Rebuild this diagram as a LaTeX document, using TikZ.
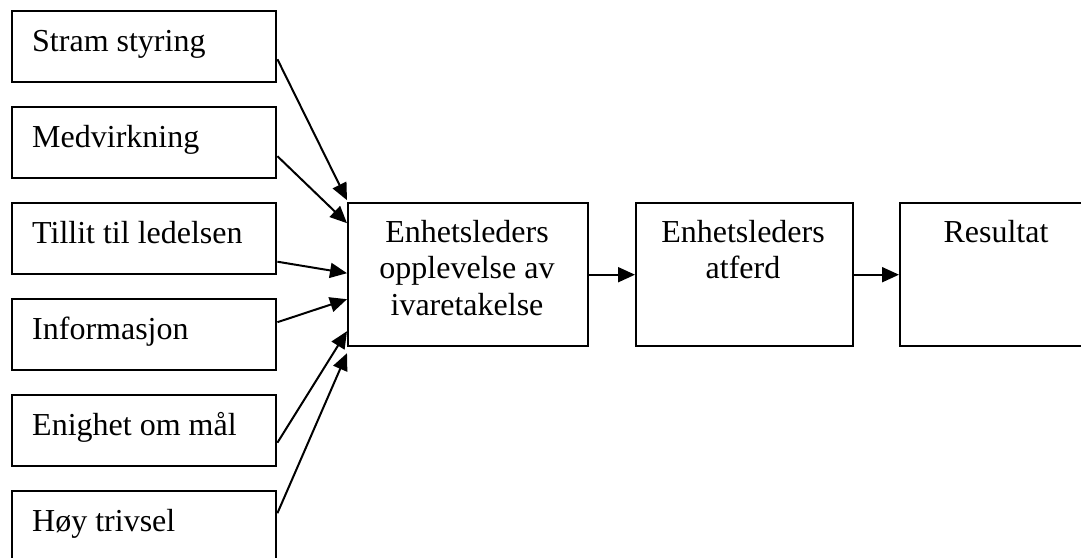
\documentclass[tikz,border=0pt]{standalone}
\usepackage{fontspec}
\setmainfont{Liberation Serif}
\usetikzlibrary{arrows.meta,calc}
\begin{document}
\begin{tikzpicture}[x=1pt,y=-1pt,
  box/.style={draw, line width=2.4pt, rectangle, inner sep=0pt, anchor=north west},
  lbox/.style={box, minimum width=264pt, minimum height=71pt},
  cbox/.style={box, minimum height=143pt},
  txt/.style={inner sep=0pt, font=\fontsize{32}{36.5}\selectfont},
  arr/.style={line width=2pt, -{Triangle[length=17pt,width=15pt]}}]
\useasboundingbox (0,0) rectangle (1081,557);
\clip (0,0) rectangle (1081,557);
% left boxes
\node[lbox] (s1) at (11,10) {};
\node[lbox] (s2) at (11,106) {};
\node[lbox] (s3) at (11,202) {};
\node[lbox] (s4) at (11,298) {};
\node[lbox] (s5) at (11,394) {};
\node[lbox] (s6) at (11,490) {};
\node[txt, anchor=base west] (t1) at (32,51) {Stram styring};
\node[txt, anchor=base west] (t2) at (32,147) {Medvirkning};
\node[txt, anchor=base west] (t3) at (32,243) {Tillit til ledelsen};
\node[txt, anchor=base west] (t4) at (32,339) {Informasjon};
\node[txt, anchor=base west] (t5) at (32,435) {Enighet om mål};
\node[txt, anchor=base west] (t6) at (32,531) {Høy trivsel};
% main boxes
\node[cbox, minimum width=240pt] (c1) at (347,202) {};
\node[cbox, minimum width=217pt] (c2) at (635,202) {};
\node[cbox, minimum width=200pt] (c3) at (899,202) {};
\node[txt, anchor=base] (c1a) at (467,242) {Enhetsleders};
\node[txt, anchor=base] (c1b) at (467,278.5) {opplevelse av};
\node[txt, anchor=base] (c1c) at (467,315) {ivaretakelse};
\node[txt, anchor=base] (c2a) at (743,242) {Enhetsleders};
\node[txt, anchor=base] (c2b) at (743,278.5) {atferd};
\node[txt, anchor=base] (c3a) at (996,242) {Resultat};
% arrows
\draw[arr] ($(s1.east)+(0,12.5)$) -- ($(c1.west)+(0,-74.5)$);
\draw[arr] ($(s2.east)+(0,13.5)$) -- ($(c1.west)+(0,-51.5)$);
\draw[arr] ($(s3.east)+(0,23)$) -- ($(c1.west)+(0,-1.5)$);
\draw[arr] ($(s4.east)+(0,-12.5)$) -- ($(c1.west)+(0,24.5)$);
\draw[arr] ($(s5.east)+(0,12)$) -- ($(c1.west)+(0,56.5)$);
\draw[arr] ($(s6.east)+(0,-13.5)$) -- ($(c1.west)+(0,78.5)$);
\draw[arr] (c1.east) -- (c2.west);
\draw[arr] (c2.east) -- (c3.west);
\end{tikzpicture}
\end{document}
